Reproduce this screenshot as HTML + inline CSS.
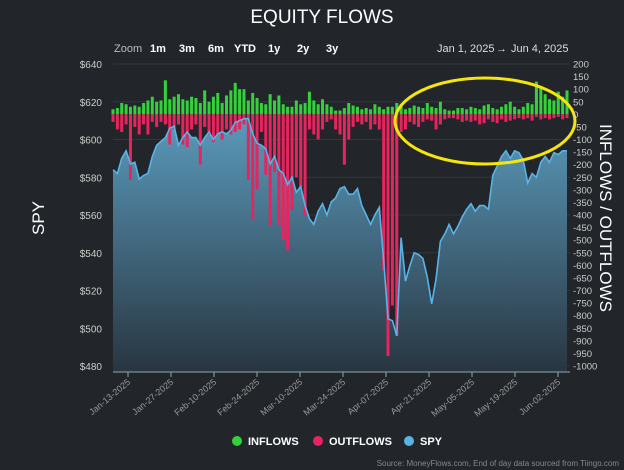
<!DOCTYPE html>
<html><head><meta charset="utf-8"><style>
html,body{margin:0;padding:0;background:#22262a;width:624px;height:470px;overflow:hidden;font-family:"Liberation Sans",sans-serif}
</style></head><body>
<svg id="s" width="624" height="470" xmlns="http://www.w3.org/2000/svg" font-family="Liberation Sans, sans-serif">
<defs><linearGradient id="g" x1="0" y1="0" x2="0" y2="1"><stop offset="0" stop-color="#5a9abb"/><stop offset="1" stop-color="#283540"/></linearGradient></defs>
<rect width="624" height="470" fill="#22262a"/>
<text x="322" y="23" fill="#fff" font-size="19" text-anchor="middle">EQUITY FLOWS</text>
<g font-size="11" fill="#ddd">
<text x="114" y="52" fill="#bbb">Zoom</text>
<text x="150" y="52" font-weight="bold" fill="#fff">1m</text>
<text x="179" y="52" font-weight="bold" fill="#fff">3m</text>
<text x="208" y="52" font-weight="bold" fill="#fff">6m</text>
<text x="234" y="52" font-weight="bold" fill="#fff">YTD</text>
<text x="268" y="52" font-weight="bold" fill="#fff">1y</text>
<text x="297" y="52" font-weight="bold" fill="#fff">2y</text>
<text x="326" y="52" font-weight="bold" fill="#fff">3y</text>
<text x="437" y="52">Jan 1, 2025</text><text x="496" y="52">→</text><text x="511" y="52">Jun 4, 2025</text>
</g>
<g id="grid"></g>
<g id="plot"></g>
<ellipse cx="485" cy="121" rx="90" ry="43" fill="none" stroke="#f5e50c" stroke-width="3"/>
<line x1="113" y1="372" x2="570" y2="372" stroke="#8aa" stroke-width="1"/>
<g id="ax" font-size="10" fill="#ccc"></g>
<text transform="translate(44,218) rotate(-90)" fill="#fff" font-size="17" text-anchor="middle">SPY</text>
<text transform="translate(600,218) rotate(90)" fill="#fff" font-size="17" text-anchor="middle">INFLOWS / OUTFLOWS</text>
<g font-size="11" font-weight="bold" fill="#fff">
<circle cx="237" cy="441" r="5" fill="#33d13a"/><text x="248" y="445">INFLOWS</text>
<circle cx="318" cy="441" r="5" fill="#e8245e"/><text x="329" y="445">OUTFLOWS</text>
<circle cx="409" cy="441" r="5" fill="#5ab3e6"/><text x="420" y="445">SPY</text>
</g>
<text x="619" y="466" fill="#888" font-size="8" text-anchor="end">Source: MoneyFlows.com, End of day data sourced from Tiingo.com</text>
</svg>
<script>
var NS="http://www.w3.org/2000/svg";
function el(p,t,a,txt){var e=document.createElementNS(NS,t);for(var k in a)e.setAttribute(k,a[k]);if(txt)e.textContent=txt;document.getElementById(p).appendChild(e);return e;}
var spy=[584,582,590,594,587,588,579,581,582,591,597,599,601,606,607,597,601,604,601,601,
597,601,604,600,603,604,603,605,609,610,611,611,603,598,597,595,587,591,584,
582,576,580,572,575,565,558,555,562,566,560,567,569,574,575,571,571,574,565,560,555,
560,564,536,505,504,496,548,525,533,540,539,537,527,513,526,546,550,555,550,554,559,
563,566,562,565,565,563,581,586,591,594,590,594,593,589,577,582,580,588,591,588,593,
592,594,594];
var N=spy.length;
var inf=[20,25,45,40,30,35,30,45,55,70,50,55,135,60,70,80,60,55,70,65,
45,95,50,70,85,45,75,95,125,100,100,55,85,65,45,40,80,55,75,
40,30,30,55,40,45,90,55,40,60,40,30,15,15,25,45,35,30,20,25,20,
40,30,20,30,30,45,40,20,25,35,30,25,45,30,25,50,20,15,15,25,25,
20,30,25,20,35,40,25,20,30,40,50,30,20,30,45,40,130,110,80,60,55,
90,70,95];
var outf=[-30,-60,-70,-40,-260,-50,-80,-40,-80,-30,-50,-30,-40,-120,-60,-40,-120,-130,-60,-40,
-200,-50,-80,-110,-80,-100,-60,-80,-70,-60,-40,-260,-420,-300,-70,-240,-440,-230,-440,
-500,-540,-380,-250,-290,-400,-60,-80,-100,-60,-30,-20,-60,-80,-200,-100,-50,-30,-40,-30,-60,
-40,-60,-620,-960,-760,-880,-70,-60,-30,-40,-50,-30,-20,-25,-60,-40,-20,-15,-15,-20,-30,
-25,-30,-25,-40,-35,-20,-30,-35,-20,-30,-25,-20,-15,-20,-15,-25,-10,-20,-15,-20,-15,
-10,-20,-15];
var x0=113,x1=567;
function X(i){return x0+(x1-x0)*i/(N-1);}
function PY(p){return 64+(640-p)*302/160;}
function FY(v){return 64+(200-v)*302/1200;}
for(var p=480;p<=640;p+=20){var y=PY(p);el("grid","line",{x1:113,x2:570,y1:y,y2:y,stroke:"#30363b","stroke-width":1});
el("ax","text",{x:102,y:y+4,"text-anchor":"end"},"$"+p);}
for(var v=200;v>=-1000;v-=50){var y=FY(v);el("ax","text",{x:573,y:y+3.5,"font-size":"9.5"},""+v);}
var d="M"+X(0)+" 372";var l="";
for(var i=0;i<N;i++){d+=" L"+X(i).toFixed(1)+" "+PY(spy[i]).toFixed(1);l+=(i?" L":"M")+X(i).toFixed(1)+" "+PY(spy[i]).toFixed(1);}
d+=" L"+X(N-1)+" 372 Z";
el("plot","path",{d:d,fill:"url(#g)"});
var z=FY(0);
for(var i=0;i<N;i++){var xx=X(i)-1.5;
el("plot","rect",{x:xx,y:FY(inf[i]),width:3,height:z-FY(inf[i]),fill:"#33d13a"});
el("plot","rect",{x:xx,y:z,width:3,height:FY(outf[i])-z,fill:"#e8245e"});}
el("plot","path",{d:l,fill:"none",stroke:"#5ab3e6","stroke-width":1.6});
var labs=["Jan-13-2025","Jan-27-2025","Feb-10-2025","Feb-24-2025","Mar-10-2025","Mar-24-2025","Apr-07-2025","Apr-21-2025","May-05-2025","May-19-2025","Jun-02-2025"];
for(var k=0;k<11;k++){var tx=128+k*43;
el("ax","line",{x1:tx,x2:tx,y1:372,y2:377,stroke:"#8aa"});
el("ax","text",{transform:"translate("+(tx+3)+",383) rotate(-40)","text-anchor":"end","font-size":"9",fill:"#999"},labs[k]);}
</script>
</body></html>
